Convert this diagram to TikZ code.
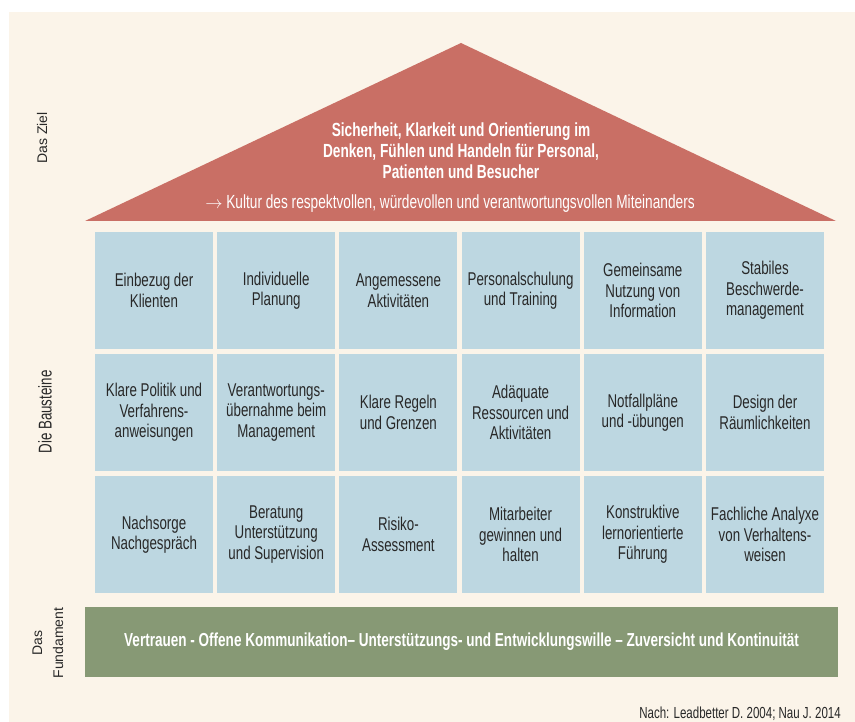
\documentclass[tikz,border=0pt]{standalone}
\usepackage{fontspec}
\setmainfont{Liberation Sans}
\newfontfamily\narrowfont[FakeStretch=0.72]{Liberation Sans}
\usetikzlibrary{positioning}

\definecolor{paper}{RGB}{251,244,233}
\definecolor{roofred}{RGB}{201,111,101}
\definecolor{stoneblue}{RGB}{189,215,225}
\definecolor{basegreen}{RGB}{135,153,117}
\definecolor{inktext}{RGB}{40,40,40}

\begin{document}
\begin{tikzpicture}[x=1pt,y=-1pt,
    stone/.style={fill=stoneblue, minimum width=118pt, minimum height=117.5pt,
        inner sep=2pt, outer sep=0pt, align=center, text=inktext,
        font=\narrowfont\fontsize{18.5}{20.5}\selectfont},
    side/.style={rotate=90, text=inktext, align=center},
    node distance=4.5pt and 4.2pt]
    \useasboundingbox (0,0) rectangle (855,722);
    \fill[white] (0,0) rectangle (855,722);
    \fill[paper] (9,12) rectangle (855,722);

    % roof
    \fill[roofred] (85,221) -- (461,43) -- (836,221) -- cycle;
    \node[text=white, align=center, font=\narrowfont\bfseries\fontsize{19}{21}\selectfont]
        (goal) at (461,151) {Sicherheit, Klarkeit und Orientierung im\\
        Denken, Fühlen und Handeln für Personal,\\Patienten und Besucher};
    \node[text=white, font=\narrowfont\fontsize{19}{21}\selectfont]
        (culture) at (450,204) {$\rightarrow$ Kultur des respektvollen, würdevollen und verantwortungsvollen Miteinanders};

    % building blocks
    \node[stone] (b11) at (154,290.5) {Einbezug der\\Klienten};
    \node[stone, right=of b11] (b12) {Individuelle\\Planung};
    \node[stone, right=of b12] (b13) {Angemessene\\Aktivitäten};
    \node[stone, right=of b13] (b14) {Personalschulung\\und Training};
    \node[stone, right=of b14] (b15) {Gemeinsame\\Nutzung von\\Information};
    \node[stone, right=of b15] (b16) {Stabiles\\Beschwerde-\\management};

    \node[stone, below=of b11] (b21) {Klare Politik und\\Verfahrens-\\anweisungen};
    \node[stone, right=of b21] (b22) {Verantwortungs-\\übernahme beim\\Management};
    \node[stone, right=of b22] (b23) {Klare Regeln\\und Grenzen};
    \node[stone, right=of b23] (b24) {Adäquate\\Ressourcen und\\Aktivitäten};
    \node[stone, right=of b24] (b25) {Notfallpläne\\und -übungen};
    \node[stone, right=of b25] (b26) {Design der\\Räumlichkeiten};

    \node[stone, below=of b21] (b31) {Nachsorge\\Nachgespräch};
    \node[stone, right=of b31] (b32) {Beratung\\Unterstützung\\und Supervision};
    \node[stone, right=of b32] (b33) {Risiko-\\Assessment};
    \node[stone, right=of b33] (b34) {Mitarbeiter\\gewinnen und\\halten};
    \node[stone, right=of b34] (b35) {Konstruktive\\lernorientierte\\Führung};
    \node[stone, right=of b35] (b36) {Fachliche Analyxe\\von Verhaltens-\\weisen};

    % foundation
    \node[fill=basegreen, minimum width=753pt, minimum height=70pt, text=white,
        font=\narrowfont\bfseries\fontsize{18.8}{21}\selectfont]
        (base) at (461.5,642) {Vertrauen - Offene Kommunikation– Unterstützungs- und Entwicklungswille – Zuversicht und Kontinuität};

    % left captions
    \node[side, font=\fontsize{14}{21}\selectfont] (ziel) at (42,138) {Das Ziel};
    \node[side, font=\narrowfont\fontsize{18.5}{21}\selectfont] (bausteine) at (45,412) {Die Bausteine};
    \node[side, font=\fontsize{14}{21}\selectfont] (fundament) at (48,643) {Das\\Fundament};

    \node[anchor=south east, inner sep=0pt, text=inktext, font=\narrowfont\fontsize{16}{18}\selectfont]
        (source) at (841,721) {Nach: Leadbetter D. 2004; Nau J. 2014};
\end{tikzpicture}
\end{document}
